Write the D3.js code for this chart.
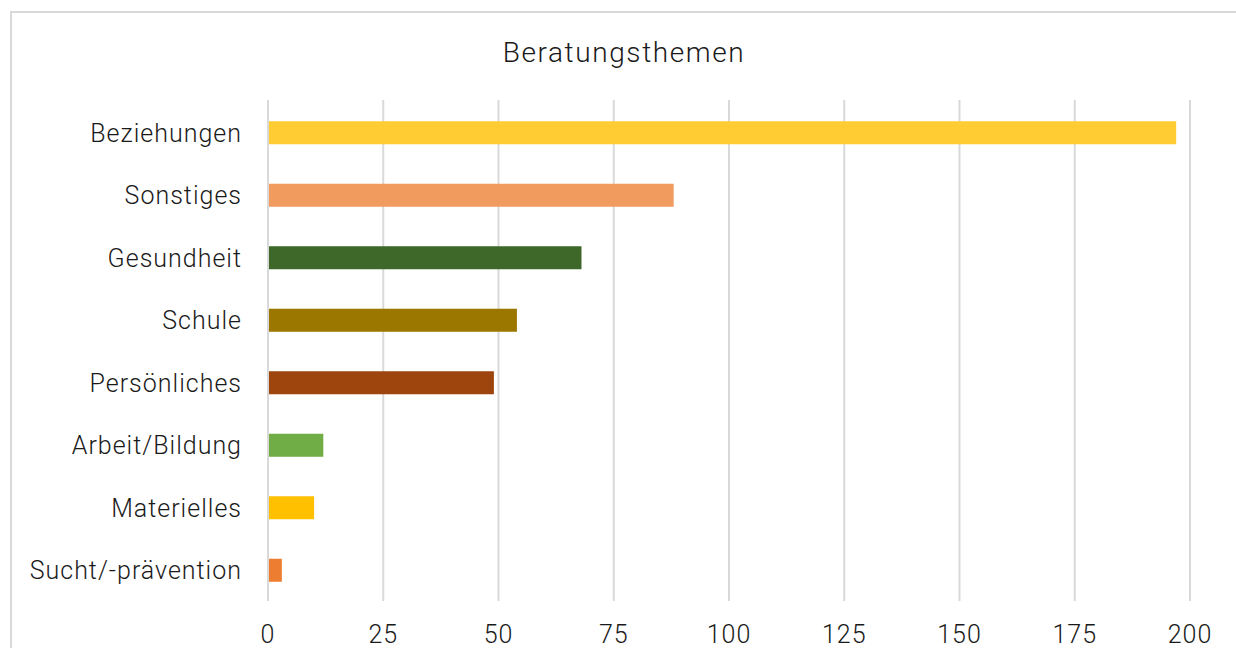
<!DOCTYPE html>
<html>
<head>
<meta charset="utf-8">
<script src="https://cdn.jsdelivr.net/npm/d3@7"></script>
<style>
  body { margin: 0; background: #fff; }
  text { font-family: Roboto, "Open Sans", sans-serif; font-weight: 300; fill: #1a1a1a; }
</style>
</head>
<body>
<div id="chart"></div>
<script>
const categories = ["Beziehungen", "Sonstiges", "Gesundheit", "Schule", "Persönliches", "Arbeit/Bildung", "Materielles", "Sucht/-prävention"];
const values = [197, 88, 68, 54, 49, 12, 10, 3];
const colors = ["#ffcc33", "#f29b5e", "#3e672a", "#9c7700", "#9e450e", "#70ad47", "#ffc000", "#ed7d31"];
const ticks = [0, 25, 50, 75, 100, 125, 150, 175, 200];
const title = "Beratungsthemen";

const width = 1236, height = 648;
const margin = { left: 268, right: 46, top: 100, bottom: 48 };

const svg = d3.select("#chart").append("svg")
  .attr("width", width)
  .attr("height", height);

// outer frame of the chart area (runs off the right and bottom edges)
svg.append("rect")
  .attr("x", 11).attr("y", 12)
  .attr("width", 1240).attr("height", 660)
  .attr("fill", "none")
  .attr("stroke", "#d9d9d9")
  .attr("stroke-width", 2);

const x = d3.scaleLinear()
  .domain([0, 200])
  .range([margin.left, width - margin.right]);

const y = d3.scaleBand()
  .domain(categories)
  .range([101.5, 601.5])
  .paddingInner(0.632)
  .paddingOuter(0.316);

// gridlines
svg.append("g")
  .selectAll("line")
  .data(ticks)
  .join("line")
  .attr("x1", d => x(d)).attr("x2", d => x(d))
  .attr("y1", margin.top).attr("y2", 601)
  .attr("stroke", "#d9d9d9")
  .attr("stroke-width", 2);

// bars
svg.append("g")
  .selectAll("rect")
  .data(values)
  .join("rect")
  .attr("x", x(0) + 1)
  .attr("y", (d, i) => y(categories[i]))
  .attr("width", d => x(d) - x(0) - 1)
  .attr("height", y.bandwidth())
  .attr("fill", (d, i) => colors[i]);

// category labels
svg.append("g")
  .selectAll("text")
  .data(categories)
  .join("text")
  .attr("x", 242)
  .attr("y", d => y(d) + y.bandwidth() / 2)
  .attr("dy", "0.35em")
  .attr("text-anchor", "end")
  .attr("font-size", "25px")
  .attr("letter-spacing", "1px")
  .text(d => d);

// tick labels
svg.append("g")
  .selectAll("text")
  .data(ticks)
  .join("text")
  .attr("x", d => x(d))
  .attr("y", 634)
  .attr("dy", "0.35em")
  .attr("text-anchor", "middle")
  .attr("font-size", "25px")
  .attr("letter-spacing", "1px")
  .text(d => d);

// title
svg.append("text")
  .attr("x", 624)
  .attr("y", 52)
  .attr("dy", "0.35em")
  .attr("text-anchor", "middle")
  .attr("font-size", "28px")
  .attr("letter-spacing", "1.6px")
  .text(title);
</script>
</body>
</html>
